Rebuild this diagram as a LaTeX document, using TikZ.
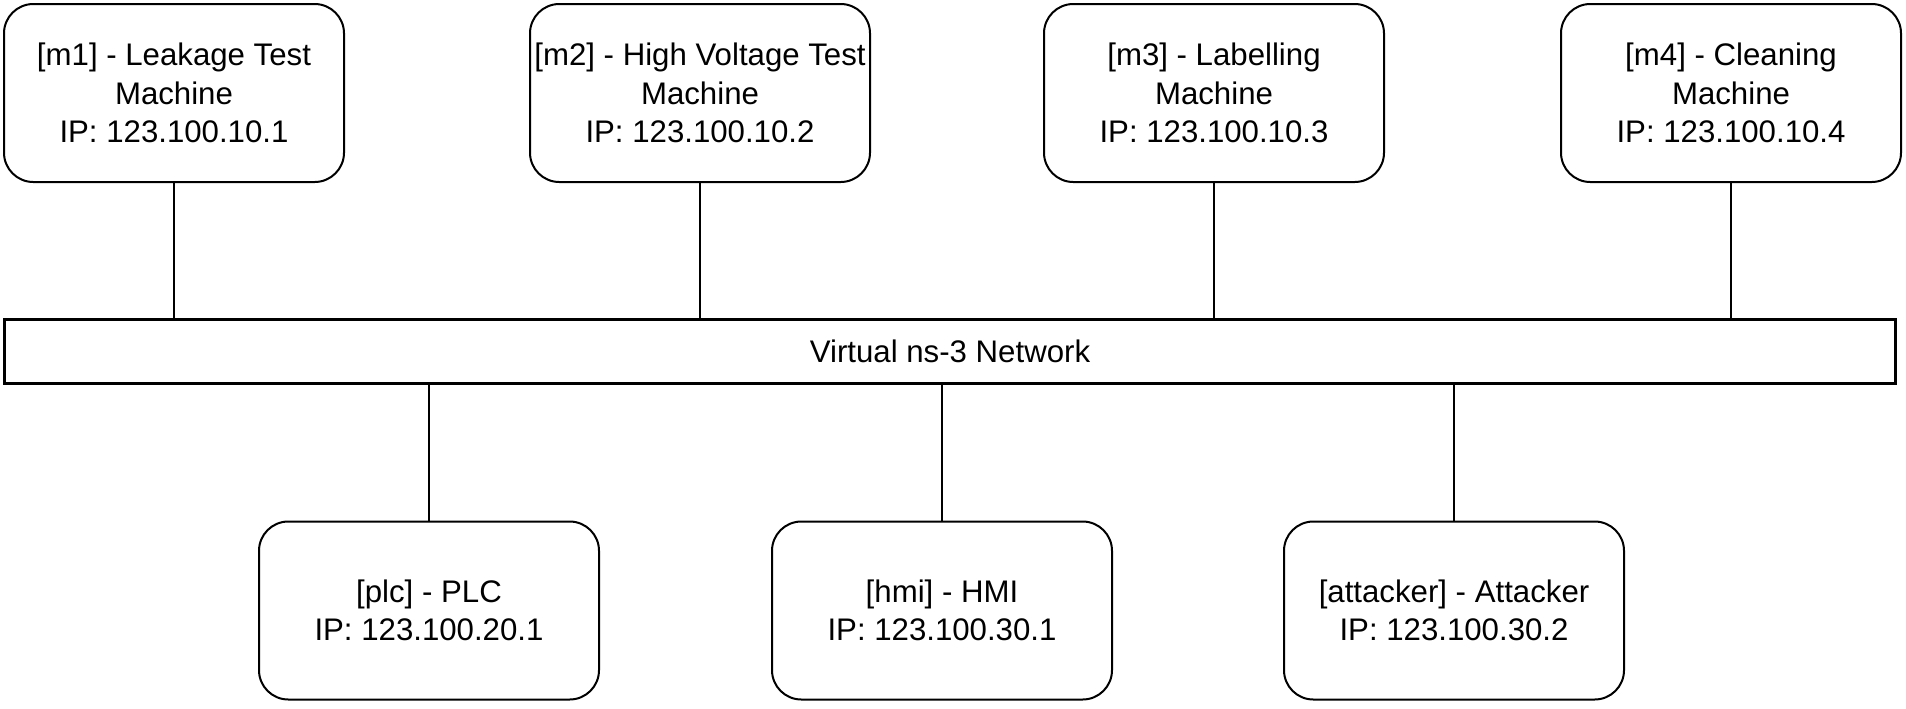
\documentclass[tikz,border=0pt]{standalone}
\usepackage{fontspec}
\setmainfont{Liberation Sans}
\begin{document}
\begin{tikzpicture}[x=0.75pt,y=-0.75pt,
  machine/.style={draw=black, line width=1.5pt, rounded corners=22pt, fill=white,
    minimum width=342*0.75pt-1.5pt, minimum height=180*0.75pt-1.5pt, align=center,
    inner sep=0pt, font=\fontsize{23.4}{29}\selectfont},
  netbar/.style={draw=black, line width=2.2pt, fill=white,
    minimum width=1894*0.75pt-2.2pt, minimum height=67*0.75pt-2.2pt, inner sep=0pt,
    font=\fontsize{23.4}{29}\selectfont},
  link/.style={draw=black, line width=1.1pt}]
\useasboundingbox (0,0) rectangle (1906,708);
\fill[white] (0,0) rectangle (1906,708);

\node[machine] (m1) at (174,93) {[m1] - Leakage Test\\Machine\\IP: 123.100.10.1};
\node[machine] (m2) at (700,93) {[m2] - High Voltage Test\\Machine\\IP: 123.100.10.2};
\node[machine] (m3) at (1214,93) {[m3] - Labelling\\Machine\\IP: 123.100.10.3};
\node[machine] (m4) at (1731,93) {[m4] - Cleaning\\Machine\\IP: 123.100.10.4};

\node[netbar] (net) at (950,351.5) {Virtual ns-3 Network};

\node[machine] (plc) at (429,610.5) {[plc] - PLC\\IP: 123.100.20.1};
\node[machine] (hmi) at (942,610.5) {[hmi] - HMI\\IP: 123.100.30.1};
\node[machine] (att) at (1454,610.5) {[attacker] - Attacker\\IP: 123.100.30.2};

\foreach \n in {m1,m2,m3,m4}
  \draw[link] (\n.south) -- (\n.south |- net.north);
\foreach \n in {plc,hmi,att}
  \draw[link] (\n.north) -- (\n.north |- net.south);
\end{tikzpicture}
\end{document}
